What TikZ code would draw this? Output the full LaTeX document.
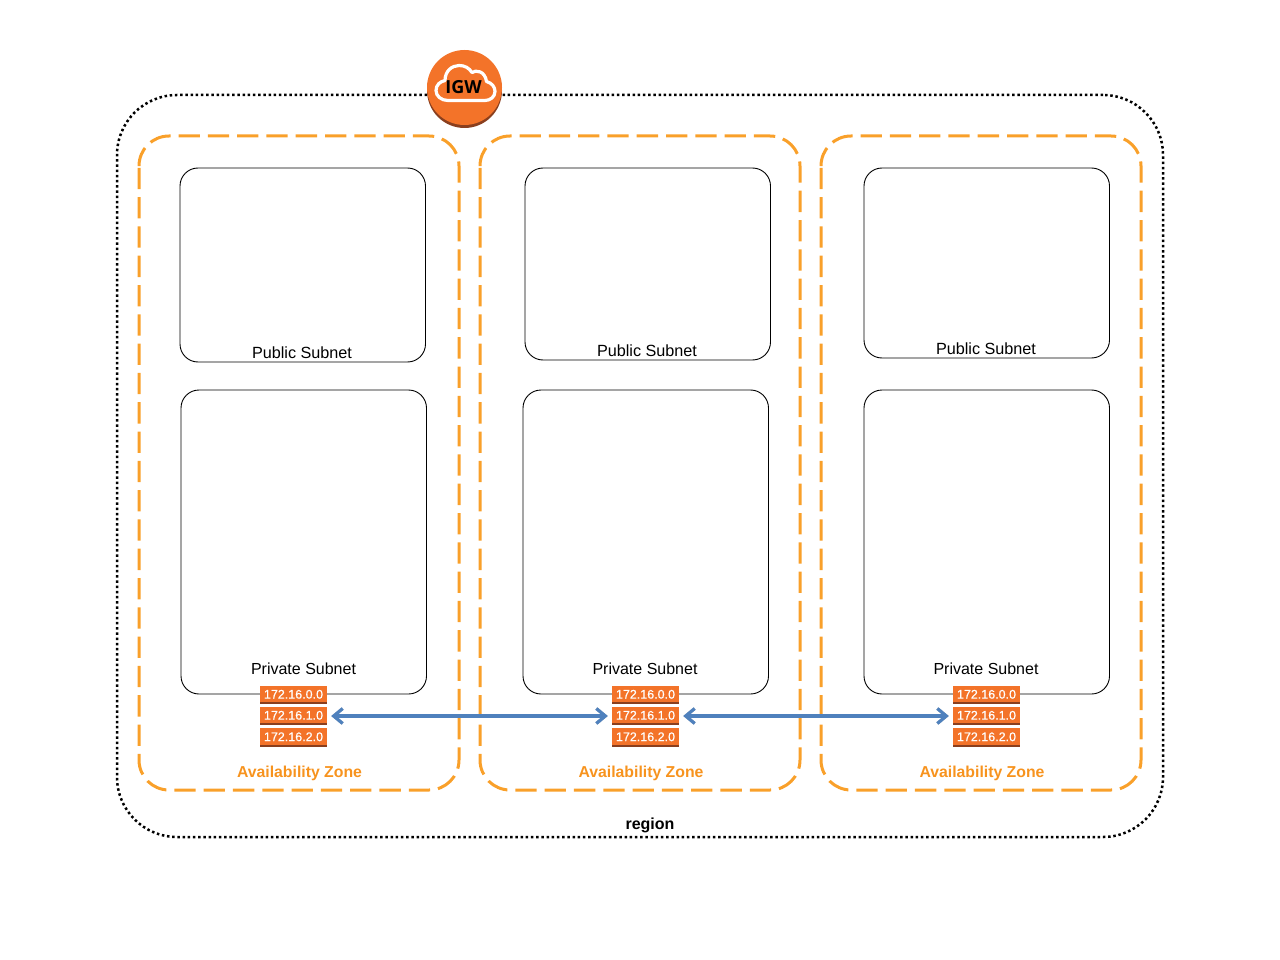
\documentclass[tikz,border=0pt]{standalone}
\usepackage{fontspec}
\setmainfont{Liberation Sans}
\newfontfamily\igwfont{Open Sans}
\newfontfamily\ipfont[FakeBold=0.6]{Liberation Sans}
\usetikzlibrary{arrows.meta}
\definecolor{azorange}{HTML}{F9A02A}
\definecolor{aztext}{HTML}{F7931E}
\definecolor{awsorange}{HTML}{F37329}
\definecolor{awsdark}{HTML}{8A3F1E}
\definecolor{linkblue}{HTML}{4F81BD}
\tikzset{
  regionbox/.style={draw=black,line width=2.5pt,dash pattern=on 2.5pt off 2.7pt,rounded corners=60pt,minimum width=1046pt,minimum height=742pt,inner sep=0pt},
  azline/.style={draw=azorange,line width=3pt,dash pattern=on 21.3pt off 8pt,rounded corners=30pt},
  subnetbox/.style={draw=black,line width=0.9pt,rounded corners=18pt,fill=white,minimum width=245.5pt,inner sep=0pt},
  publabel/.style={font=\fontsize{16.2}{18}\selectfont,inner sep=0pt,text=black},
  prvlabel/.style={font=\fontsize{16}{18}\selectfont,inner sep=0pt,text=black},
  azlabel/.style={font=\fontsize{15.8}{18}\selectfont\bfseries,inner sep=0pt,text=aztext},
  regionlabel/.style={font=\fontsize{16}{18}\selectfont\bfseries,inner sep=0pt,text=black},
  ipcard/.style={fill=awsorange,draw=none,minimum width=67pt,inner sep=0pt,text=white,
    font=\ipfont\fontsize{12.5}{14}\selectfont,
    path picture={\fill[awsdark] ([yshift=2.5pt]path picture bounding box.south west) rectangle (path picture bounding box.south east);}},
  peertips/.style={{Straight Barb[length=9pt,width=15pt,line width=3.2pt]}-{Straight Barb[length=9pt,width=15pt,line width=3.2pt]},line width=3.2pt,shorten <=4pt,shorten >=4pt},
  peerlink/.style={draw=linkblue,peertips},
  peershadow/.style={draw=black!50,opacity=0.35,peertips},
}
\newcommand{\ipstack}[2]{%
  \node[ipcard,minimum height=18pt] (#1a) at (#2,695) {\raisebox{1.5pt}{172.16.0.0}};
  \node[ipcard,minimum height=18pt] (#1b) at (#2,716) {\raisebox{1.5pt}{172.16.1.0}};
  \node[ipcard,minimum height=19pt] (#1c) at (#2,737.5) {\raisebox{1.5pt}{172.16.2.0}};
}
\newcommand{\azframe}[1]{%
  \draw[azline] (#1,164) -- (#1,136) -- (#1+320,136) -- (#1+320,790) -- (#1,790) -- (#1,164);
}
\begin{document}
\begin{tikzpicture}[x=1pt,y=-1pt]
\useasboundingbox (0,0) rectangle (1280,960);
\node[regionbox] (region) at (640,466) {};
\azframe{139}
\azframe{480}
\azframe{821}
\node[subnetbox,minimum height=194pt] (pub1) at (302.75,265) {};
\node[subnetbox,minimum height=192pt] (pub2) at (647.75,264) {};
\node[subnetbox,minimum height=190pt] (pub3) at (986.75,263) {};
\node[subnetbox,minimum height=304pt] (prv1) at (303.75,542) {};
\node[subnetbox,minimum height=304pt] (prv2) at (645.75,542) {};
\node[subnetbox,minimum height=304pt] (prv3) at (986.75,542) {};
\node[publabel] (lpub1) at (302,353) {Public Subnet};
\node[publabel] (lpub2) at (647,351) {Public Subnet};
\node[publabel] (lpub3) at (986,349) {Public Subnet};
\node[prvlabel] (lprv1) at (303.5,669) {Private Subnet};
\node[prvlabel] (lprv2) at (645,669) {Private Subnet};
\node[prvlabel] (lprv3) at (986,669) {Private Subnet};
\node[azlabel] (laz1) at (299.5,773.5) {Availability Zone};
\node[azlabel] (laz2) at (641,773.5) {Availability Zone};
\node[azlabel] (laz3) at (982,773.5) {Availability Zone};
\node[regionlabel] (lregion) at (650,825.5) {region};
\ipstack{s1}{293.5}
\ipstack{s2}{645.5}
\ipstack{s3}{986.5}
\begin{scope}[shift={(1.5,3.5)}]
\draw[peershadow] (s1b.east) -- (s2b.west);
\draw[peershadow] (s2b.east) -- (s3b.west);
\end{scope}
\draw[peerlink] (s1b.east) -- (s2b.west);
\draw[peerlink] (s2b.east) -- (s3b.west);
% internet gateway
\fill[awsdark] (464.5,90.5) circle (37.5);
\node[circle,fill=awsorange,minimum size=75pt,inner sep=0pt] (igw) at (464.5,87.5) {};
\draw[white,line width=3.2pt,line join=round]
  (448,100.5) .. controls (441,100.5) and (436,96) .. (436,90.5)
  .. controls (436,85) and (440,81.5) .. (445,80.5)
  .. controls (445,71) and (452,65.5) .. (459,65.5)
  .. controls (465,65.5) and (469,68) .. (472,72.5)
  .. controls (476,69.5) and (485,71) .. (486.5,81.5)
  .. controls (492,83) and (495,87) .. (495,91.5)
  .. controls (495,97) and (490,100.5) .. (485,100.5) -- cycle;
\node[font=\igwfont\fontsize{18}{20}\selectfont\bfseries,text=black,inner sep=0pt] (ligw) at (463.5,87) {IGW};
\end{tikzpicture}
\end{document}
